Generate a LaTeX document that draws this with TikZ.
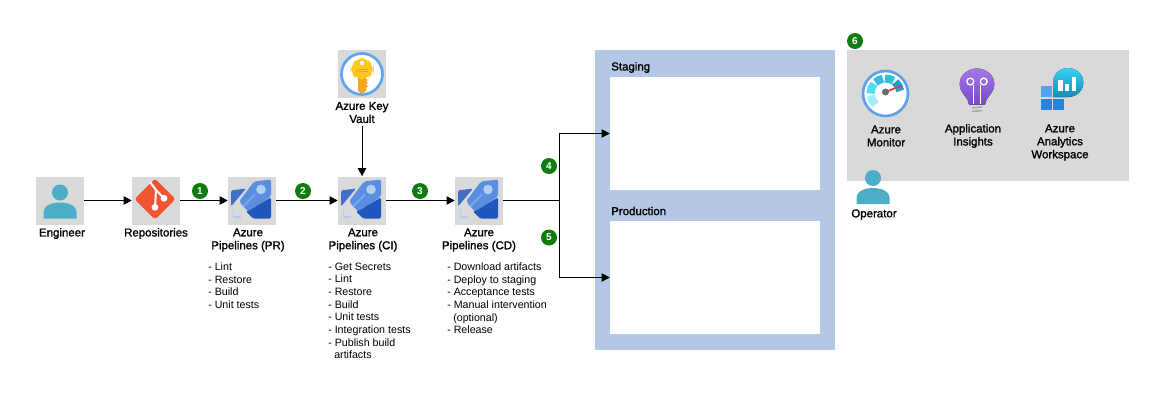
\documentclass[tikz,border=0pt]{standalone}
\usepackage{fontspec}
\setmainfont{Liberation Sans}
\newfontfamily\lblfont[FakeBold=1.4]{Liberation Sans}
\usetikzlibrary{arrows.meta}
\definecolor{tilegrey}{HTML}{D9D9D9}
\definecolor{envblue}{HTML}{B4C7E7}
\definecolor{badgegreen}{HTML}{107C10}
\definecolor{persona}{HTML}{4BADC8}
\tikzset{
  x=0.75pt,y=-0.75pt,
  tile/.style={fill=tilegrey,draw=none,minimum size=36pt,inner sep=0pt},
  panelbox/.style={draw=none,inner sep=0pt},
  badge/.style={circle,fill=badgegreen,text=white,minimum size=12pt,inner sep=0pt,font=\fontsize{7.5}{9}\selectfont\bfseries},
  lbl/.style={align=center,inner sep=0pt,font=\fontsize{8.6}{9.75}\lblfont\selectfont},
  lst/.style={align=left,anchor=north west,inner sep=0pt,font=\fontsize{8}{9.5}\selectfont},
  flow/.style={line width=0.75pt,-{Triangle[length=6pt,width=6.2pt]}},
  wire/.style={line width=0.75pt},
  person/.pic={
    \fill[persona] (0,-8) circle[radius=8];
    \fill[persona] (-16.5,18) -- (-16.5,12) .. controls (-16.5,5) and (-8,2) .. (0,2) .. controls (8,2) and (16.5,5) .. (16.5,12) -- (16.5,18) -- cycle;
  },
  gitmark/.pic={
    \fill[rounded corners=2.2pt,fill={rgb,255:red,241;green,84;blue,51}] (-20.5,0) -- (0,-20.5) -- (20.5,0) -- (0,20.5) -- cycle;
    \draw[white,line width=1.5pt] (-5,-17) -- (1,-9) -- (0,8.3);
    \draw[white,line width=1.5pt] (1,-9) -- (9,-0.7);
    \fill[white] (0,8.3) circle[radius=3.4];
    \fill[white] (9,-0.7) circle[radius=3.4];
  },
  rocket/.pic={
    \fill[fill={rgb,255:red,63;green,111;blue,198},rounded corners=1pt] (-21,-10) -- (-6,-12) -- (-21,6) -- cycle;
    \fill[fill={rgb,255:red,32;green,87;blue,188},rounded corners=1pt] (19,-3) -- (19,18) -- (1,18) -- (-6,11) -- cycle;
    \fill[fill={rgb,255:red,91;green,141;blue,224},rounded corners=1.5pt] (2,-19) -- (19,-21) -- (19,-4) -- (-4,11) -- (-13,1) -- cycle;
    \fill[fill={rgb,255:red,179;green,207;blue,244}] (9,-11) circle[radius=4.8];
    \draw[line width=1.4pt,draw={rgb,255:red,125;green,166;blue,232}] (-9,6) -- (3,-6);
    \draw[line width=1.2pt,draw={rgb,255:red,179;green,204;blue,244}] (-18.5,9) -- (-18.5,16.5) -- (-11,16.5);
  },
  keyring/.pic={
    \draw[fill=white,line width=2pt,draw={rgb,255:red,94;green,165;blue,240}] (0,0) circle[radius=20.5];
    \fill[fill={rgb,255:red,245;green,166;blue,35}] (-4,0) -- (4,0) -- (4,5) -- (6,6) -- (4,7.5) -- (6,9) -- (4,10.5) -- (6,12) -- (4,14) -- (4,17) -- (0,20) -- (-4,17) -- cycle;
    \fill[fill={rgb,255:red,255;green,200;blue,30},rounded corners=6pt] (-11.5,-8) -- (-4,-16.5) -- (4,-16.5) -- (11.5,-8) -- (11.5,-1) -- (5,5) -- (-5,5) -- (-11.5,-1) -- cycle;
    \fill[white] (0,-11) circle[radius=2.2];
    \draw[line width=0.5pt,draw={rgb,255:red,245;green,166;blue,35}] (-6,-4.5) -- (6,-4.5) (-6,-2.2) -- (6,-2.2);
  },
  gauge/.pic={
    \draw[fill=white,line width=2pt,draw={rgb,255:red,94;green,160;blue,236}] (0,0) circle[radius=22.5];
    \draw[line width=6pt,draw={rgb,255:red,166;green,236;blue,255}] (-188:15) arc[start angle=188,end angle=228,radius=11.25pt];
    \draw[line width=6pt,draw={rgb,255:red,80;green,220;blue,245}] (-140:15) arc[start angle=140,end angle=180,radius=11.25pt];
    \draw[line width=6pt,draw={rgb,255:red,50;green,190;blue,221}] (-100:15) arc[start angle=100,end angle=132,radius=11.25pt];
    \draw[line width=6pt,draw={rgb,255:red,50;green,190;blue,221}] (-58:15) arc[start angle=58,end angle=92,radius=11.25pt];
    \draw[line width=6pt,draw={rgb,255:red,31;green,158;blue,191}] (-10:15) arc[start angle=10,end angle=50,radius=11.25pt];
    \draw[line width=1.3pt,draw={rgb,255:red,232;green,54;blue,76}] (0,-1.5) -- (15,-7.5);
    \fill[fill={rgb,255:red,107;green,107;blue,107}] (0,-1.5) circle[radius=3.5];
  },
  bulb/.pic={
    \fill[top color={rgb,255:red,165;green,120;blue,232},bottom color={rgb,255:red,120;green,75;blue,200}] (-8,18.5) .. controls (-8,11) and (-17.3,8) .. (-17.3,-2) .. controls (-17.3,-11) and (-9,-17.5) .. (0,-17.5) .. controls (9,-17.5) and (17.3,-11) .. (17.3,-2) .. controls (17.3,8) and (8,11) .. (8,18.5) -- cycle;
    \draw[white,line width=1pt] (-3.5,-1) -- (-3.5,18) (3.5,-1) -- (3.5,18);
    \draw[white,line width=1pt] (-6.7,-4.5) circle[radius=3.4] (6.7,-4.5) circle[radius=3.4];
    \draw[line width=1.2pt,draw={rgb,255:red,170;green,170;blue,170}] (-5,22) -- (5,21) (-5,25.5) -- (5,24.5);
  },
  workspace/.pic={
    \fill[fill={rgb,255:red,79;green,166;blue,238}] (-18.7,-5.7) rectangle (-7.7,5);
    \fill[fill={rgb,255:red,37;green,134;blue,222}] (-18.7,6.7) rectangle (-7.7,17.7);
    \fill[fill={rgb,255:red,37;green,134;blue,222}] (-6.7,6.7) rectangle (4,17.7);
    \fill[top color={rgb,255:red,50;green,212;blue,245},bottom color={rgb,255:red,25;green,138;blue,179}] (-7,5) -- (8,5) .. controls (16,5) and (23.3,-1) .. (23.3,-9.5) .. controls (23.3,-17.5) and (16,-24) .. (8,-24) .. controls (0,-24) and (-7,-17.5) .. (-7,-9.5) -- cycle;
    \fill[white] (-1.7,-11.7) rectangle (3,-1);
    \fill[white] (5,-7.7) rectangle (9,-1);
    \fill[white] (11.7,-15) rectangle (15.7,-1);
  }
}
\begin{document}
\begin{tikzpicture}
\useasboundingbox (0,0) rectangle (1155,414);
\fill[white] (0,0) rectangle (1155,414);
% panels
\node[panelbox,fill=envblue,minimum width=180pt,minimum height=225pt] (env) at (715,200) {};
\node[panelbox,fill=white,minimum width=157.5pt,minimum height=85pt] (stg) at (715,133.5) {};
\node[panelbox,fill=white,minimum width=157.5pt,minimum height=85pt] (prd) at (715,277.5) {};
\node[panelbox,fill=tilegrey,minimum width=211.5pt,minimum height=98.25pt] (ops) at (988,115.5) {};
\node[lbl,anchor=west] (stgl) at (611,67.5) {Staging};
\node[lbl,anchor=west] (prdl) at (611,211) {Production};
% tiles
\node[tile] (eng) at (60,200.5) {};
\node[tile] (repo) at (156,200.5) {};
\node[tile] (pr) at (252,200.5) {};
\node[tile] (ci) at (362,200.5) {};
\node[tile] (cd) at (479,200.5) {};
\node[tile] (kv) at (362,74) {};
\pic at (eng) {person};
\pic at (155,199) {gitmark};
\pic at (pr) {rocket};
\pic at (ci) {rocket};
\pic at (cd) {rocket};
\pic at (kv) {keyring};
\pic at (885.5,93.5) {gauge};
\pic at (977,86) {bulb};
\pic at (1060,92) {workspace};
\pic at (873,186) {person};
% labels
\node[lbl] (engl) at (62,233.5) {Engineer};
\node[lbl] (repol) at (156,233.5) {Repositories};
\node[lbl] (prl) at (248,240) {Azure\\Pipelines (PR)};
\node[lbl] (cil) at (363,240) {Azure\\Pipelines (CI)};
\node[lbl] (cdl) at (479,240) {Azure\\Pipelines (CD)};
\node[lbl] (kvl) at (362,112.5) {Azure Key\\Vault};
\node[lbl] (monl) at (886,136) {Azure\\Monitor};
\node[lbl] (insl) at (973,136) {Application\\Insights};
\node[lbl] (wsl) at (1060,142.5) {Azure\\Analytics\\Workspace};
\node[lbl] (opl) at (874,214.5) {Operator};
% lists
\node[lst] (prs) at (208,262.5) {- Lint\\- Restore\\- Build\\- Unit tests};
\node[lst] (cis) at (328,262.5) {- Get Secrets\\- Lint\\- Restore\\- Build\\- Unit tests\\- Integration tests\\- Publish build\\\hspace*{4.5pt}artifacts};
\node[lst] (cds) at (447,262.5) {- Download artifacts\\- Deploy to staging\\- Acceptance tests\\- Manual intervention\\\hspace*{4.5pt}(optional)\\- Release};
% connectors
\draw[flow] (eng) -- (repo);
\draw[flow] (repo) -- (pr);
\draw[flow] (pr) -- (ci);
\draw[flow] (ci) -- (cd);
\draw[flow,shorten <=2pt] (kvl) -- (ci);
\coordinate (j) at (559,200.5);
\draw[wire] (cd) -- (j);
\draw[flow] (j) |- (stg);
\draw[flow] (j) |- (prd);
% badges
\node[badge] (b1) at (200,191) {1};
\node[badge] (b2) at (303,191) {2};
\node[badge] (b3) at (420,191) {3};
\node[badge] (b4) at (549,166) {4};
\node[badge] (b5) at (549,237.5) {5};
\node[badge] (b6) at (855,41) {6};
\end{tikzpicture}
\end{document}
